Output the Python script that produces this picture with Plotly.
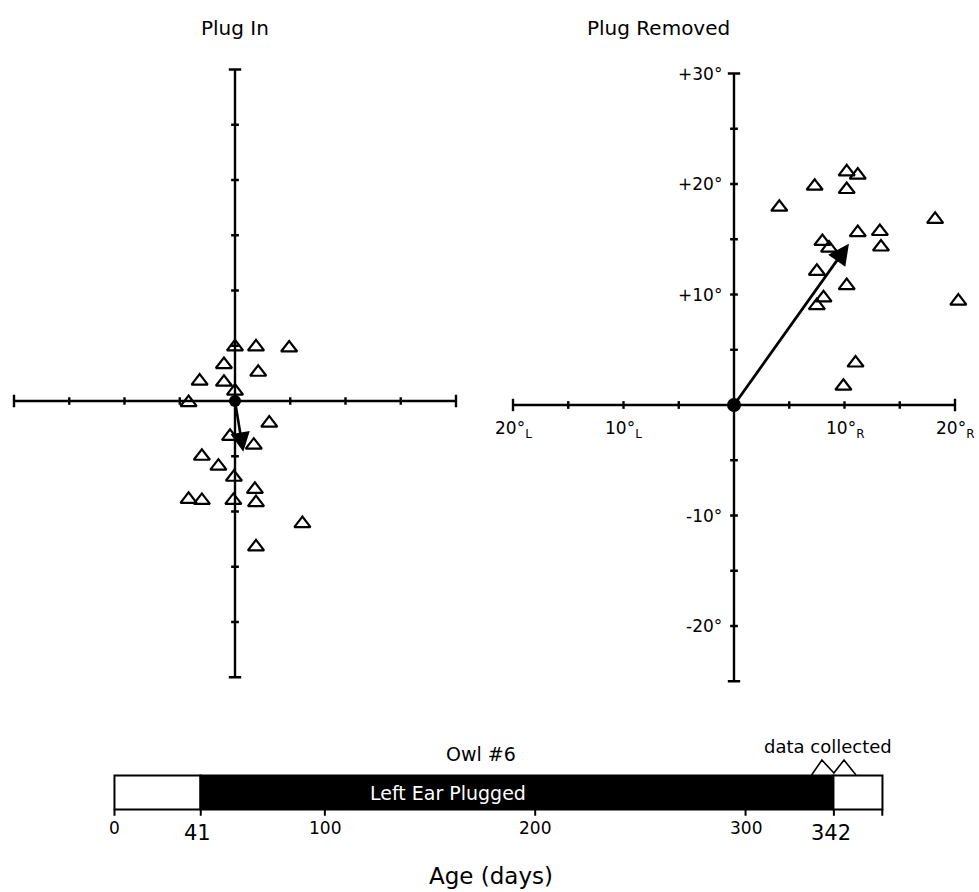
import plotly.graph_objects as go

W, H = 979, 892
FONT = "DejaVu Sans"

# ---------------- data ----------------
# Plug In panel (degrees; +x = right, +y = up)
plugin_x = [0.0, 1.9, 4.9, -1.0, 2.1, -3.2, -1.0, 0.0, -4.2, 3.1, -0.45, 1.7,
            -3.0, -1.5, -0.1, 1.8, -4.2, -3.0, -0.15, 1.9, 6.1, 1.9]
plugin_y = [4.9, 4.9, 4.8, 3.3, 2.6, 1.8, 1.7, 0.9, -0.15, -2.0, -3.2, -4.0,
            -5.0, -5.9, -6.9, -8.0, -8.9, -9.0, -9.0, -9.2, -11.1, -13.2]
plugin_mean = [0.75, -4.6]

# Plug Removed panel
removed_x = [4.1, 7.3, 10.2, 11.2, 10.2, 18.2, 11.2, 13.2, 13.3, 8.0, 8.6, 7.5,
             10.2, 8.1, 7.5, 20.3, 11.0, 9.9]
removed_y = [17.9, 19.8, 21.1, 20.8, 19.5, 16.8, 15.6, 15.7, 14.3, 14.8, 14.2, 12.1,
             10.8, 9.7, 9.0, 9.4, 3.8, 1.7]
removed_mean = [10.4, 14.6]

# axis ticks (degrees)
h_ticks = [-20, -15, -10, -5, 0, 5, 10, 15, 20]
v_ticks = [-25, -20, -15, -10, -5, 0, 5, 10, 15, 20, 25, 30]
h_labels = {-20: "20°<sub>L</sub>", -10: "10°<sub>L</sub>", 10: "10°<sub>R</sub>", 20: "20°<sub>R</sub>"}
v_labels = {30: "+30°", 20: "+20°", 10: "+10°", -10: "-10°", -20: "-20°"}

# timeline (age in days)
seg_start = [0, 41, 342]
seg_len = [41, 301, 23]
seg_color = ["white", "black", "white"]
age_ticks = [0, 41, 100, 200, 300, 342, 365]
age_labels_small = [0, 100, 200, 300]
age_labels_big = [41, 342]
collected_x = [331.4, 336.3, 342, 346.8, 352.5]
collected_y = [1.0, 1.44, 1.06, 1.44, 1.0]

# ---------------- layout helpers ----------------
def dom_x(p0, p1):
    return [p0 / W, p1 / W]

def dom_y(p_top, p_bot):
    return [1 - p_bot / H, 1 - p_top / H]

fig = go.Figure()

def cross_axes(xa, ya, tick_half=0.35):
    xs, ys = [], []
    xs += [h_ticks[0], h_ticks[-1], None]; ys += [0, 0, None]
    xs += [0, 0, None]; ys += [v_ticks[0], v_ticks[-1], None]
    for t in h_ticks:
        hl = tick_half * (1.6 if t in (h_ticks[0], h_ticks[-1]) else 1)
        xs += [t, t, None]; ys += [-hl, hl, None]
    for t in v_ticks:
        hl = tick_half * (1.6 if t in (v_ticks[0], v_ticks[-1]) else 1)
        xs += [-hl, hl, None]; ys += [t, t, None]
    fig.add_trace(go.Scatter(x=xs, y=ys, mode="lines", xaxis=xa, yaxis=ya,
                             line=dict(color="black", width=2.4),
                             hoverinfo="skip", showlegend=False))

def points(px, py, xa, ya):
    fig.add_trace(go.Scatter(x=px, y=py, mode="markers", xaxis=xa, yaxis=ya,
                             marker=dict(symbol="triangle-up-open", size=14,
                                         color="black", line=dict(width=2.2)),
                             cliponaxis=False, showlegend=False))

def origin(xa, ya, size):
    fig.add_trace(go.Scatter(x=[0], y=[0], mode="markers", xaxis=xa, yaxis=ya,
                             marker=dict(symbol="circle", size=size, color="black"),
                             cliponaxis=False, showlegend=False))

# Left panel
cross_axes("x", "y")
points(plugin_x, plugin_y, "x", "y")
origin("x", "y", 12)
fig.add_annotation(x=plugin_mean[0], y=plugin_mean[1], ax=0, ay=0, xref="x", yref="y",
                   axref="x", ayref="y", showarrow=True, arrowhead=2, arrowsize=1.5,
                   arrowwidth=2.6, arrowcolor="black", text="")

# Right panel
cross_axes("x2", "y2")
points(removed_x, removed_y, "x2", "y2")
origin("x2", "y2", 14)
fig.add_annotation(x=removed_mean[0], y=removed_mean[1], ax=0, ay=0, xref="x2", yref="y2",
                   axref="x2", ayref="y2", showarrow=True, arrowhead=2, arrowsize=1.5,
                   arrowwidth=2.8, arrowcolor="black", text="")
for t, lab in h_labels.items():
    fig.add_annotation(x=t, y=-1.0, xref="x2", yref="y2", text=lab, showarrow=False,
                       xanchor="center", yanchor="top", font=dict(family=FONT, size=17, color="black"))
for t, lab in v_labels.items():
    fig.add_annotation(x=-0.9, y=t, xref="x2", yref="y2", text=lab, showarrow=False,
                       xanchor="right", yanchor="middle", font=dict(family=FONT, size=17, color="black"))

# Timeline
fig.add_trace(go.Bar(y=[0.5] * len(seg_start), x=seg_len, base=seg_start, orientation="h",
                     width=1.0, xaxis="x3", yaxis="y3",
                     marker=dict(color=seg_color, line=dict(color="black", width=2)),
                     showlegend=False, hoverinfo="skip"))
tx, ty = [], []
for t in age_ticks:
    tx += [t, t, None]; ty += [0, -0.2, None]
fig.add_trace(go.Scatter(x=tx, y=ty, mode="lines", xaxis="x3", yaxis="y3",
                         line=dict(color="black", width=2), showlegend=False, hoverinfo="skip"))
fig.add_trace(go.Scatter(x=collected_x, y=collected_y, mode="lines", xaxis="x3", yaxis="y3",
                         line=dict(color="black", width=1.6), showlegend=False, hoverinfo="skip",
                         cliponaxis=False))
for t in age_labels_small:
    fig.add_annotation(x=t, y=-0.56, xref="x3", yref="y3", text=str(t), showarrow=False,
                       xanchor="center", font=dict(family=FONT, size=17, color="black"))
for t in age_labels_big:
    fig.add_annotation(x=t - 1.5, y=-0.7, xref="x3", yref="y3", text=str(t), showarrow=False,
                       xanchor="center", font=dict(family=FONT, size=21, color="black"))
fig.add_annotation(x=158.5, y=0.47, xref="x3", yref="y3", text="Left Ear Plugged", showarrow=False,
                   xanchor="center", font=dict(family=FONT, size=19, color="white"))
fig.add_annotation(x=174.3, y=1.62, xref="x3", yref="y3", text="Owl #6", showarrow=False,
                   xanchor="center", font=dict(family=FONT, size=19, color="black"))
fig.add_annotation(x=339.2, y=1.83, xref="x3", yref="y3", text="data collected", showarrow=False,
                   xanchor="center", font=dict(family=FONT, size=18, color="black"))
fig.add_annotation(x=179, y=-1.98, xref="x3", yref="y3", text="Age (days)", showarrow=False,
                   xanchor="center", font=dict(family=FONT, size=23, color="black"))

# titles
fig.add_annotation(x=235 / W, y=1 - 28 / H, xref="paper", yref="paper", text="Plug In",
                   xanchor="center", yanchor="middle", showarrow=False,
                   font=dict(family=FONT, size=20, color="black"))
fig.add_annotation(x=658 / W, y=1 - 28 / H, xref="paper", yref="paper", text="Plug Removed",
                   xanchor="center", yanchor="middle", showarrow=False,
                   font=dict(family=FONT, size=20, color="black"))

# ---------------- axes placement ----------------
s = 11.05  # px per degree
hidden = dict(visible=False, showgrid=False, zeroline=False, fixedrange=True)
xr1 = [-21, 21]; yr1 = [-26, 31]
xr2 = [-21, 22]; yr2 = [-26, 31]
cx1, cy1 = 235, 401
cx2, cy2 = 734, 405
dpx = 210.35 / 100  # px per day
xr3 = [-10, 375]; yr3 = [-2.4, 1.9]
bar_bottom_px, unit_px = 809, 34

fig.update_layout(
    width=W, height=H, margin=dict(l=0, r=0, t=0, b=0),
    paper_bgcolor="white", plot_bgcolor="white", showlegend=False,
    bargap=0, barmode="overlay",
    xaxis=dict(domain=dom_x(cx1 + xr1[0] * s, cx1 + xr1[1] * s), range=xr1, **hidden),
    yaxis=dict(domain=dom_y(cy1 - yr1[1] * s, cy1 - yr1[0] * s), range=yr1, **hidden),
    xaxis2=dict(domain=dom_x(cx2 + xr2[0] * s, cx2 + xr2[1] * s), range=xr2, anchor="y2", **hidden),
    yaxis2=dict(domain=dom_y(cy2 - yr2[1] * s, cy2 - yr2[0] * s), range=yr2, anchor="x2", **hidden),
    xaxis3=dict(domain=dom_x(114.5 + xr3[0] * dpx, 114.5 + xr3[1] * dpx), range=xr3, anchor="y3", **hidden),
    yaxis3=dict(domain=dom_y(bar_bottom_px - yr3[1] * unit_px, bar_bottom_px - yr3[0] * unit_px),
                range=yr3, anchor="x3", **hidden),
)

fig.write_html("out.html")
